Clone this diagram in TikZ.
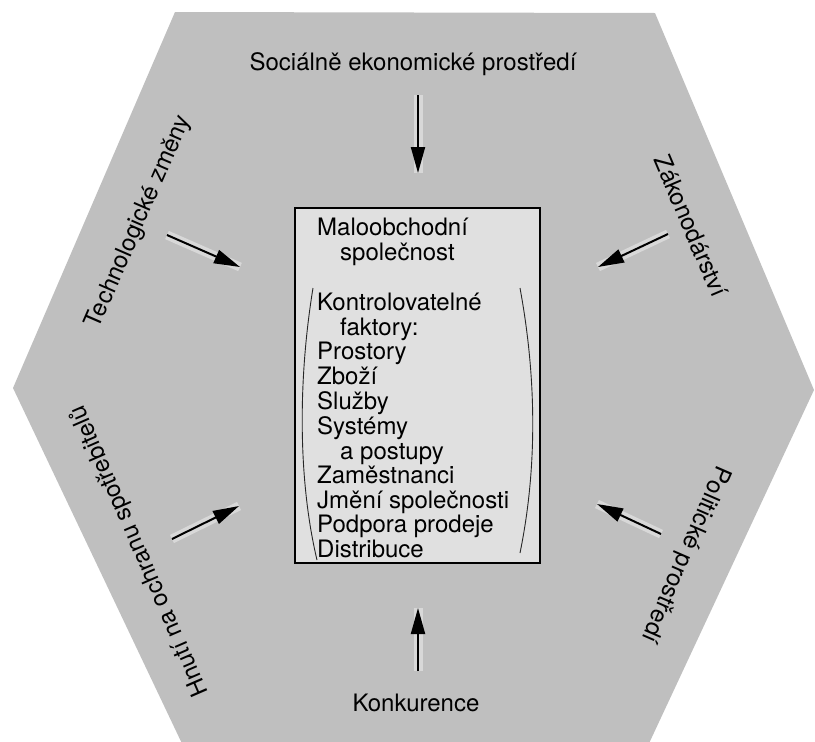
\documentclass[tikz,border=0pt]{standalone}
\usepackage{fontspec}
\setmainfont{TeX Gyre Heros}
\usetikzlibrary{arrows.meta}

\begin{document}
\begin{tikzpicture}[x=1pt,y=-1pt]
\tikzstyle{every node}+=[inner sep=0pt, font=\fontsize{24}{25}\selectfont]
\tikzstyle{force}=[black, line width=2pt, -{Triangle[length=26pt,width=14pt]}, preaction={draw=white, line width=9pt, opacity=0.4, -}]
\useasboundingbox (0,0) rectangle (815,742);
\clip (0,0) rectangle (815,742);
\fill [black!25] (175,12) -- (655,13) -- (814,390) -- (645,752) -- (186,752) -- (13,388) -- cycle;
\node (firma) [draw=black, line width=1.6pt, fill=black!12, minimum width=245pt, minimum height=355pt] at (417.5,385.5) {};
\foreach \dx/\yy/\t [count=\i] in {0/235/Maloobchodní, 23/260/společnost, 0/310/Kontrolovatelné, 23/335/faktory:, 0/359/Prostory, 0/384/Zboží, 0/409/Služby, 0/434/Systémy, 23/459/a postupy, 0/483/Zaměstnanci, 0/508/Jmění společnosti, 0/532/Podpora prodeje, 0/557/Distribuce}
  \node (f\i) [anchor=base west] at (317+\dx,\yy) {\t};
\draw [black!85, line width=0.9pt] (313,288) .. controls (298,380) and (298,480) .. (317,560);
\draw [black!85, line width=0.9pt] (520,288) .. controls (537,380) and (537,470) .. (520,553);
\node (social) at (413,64) {Sociálně ekonomické prostředí};
\node (konk) at (416,703) {Konkurence};
\node (tech) [rotate=66.5] at (139,222) {Technologické změny};
\node (zakon) [rotate=-67] at (691,226) {Zákonodárství};
\node (polit) [rotate=-113.5] at (685,554) {Politické prostředí};
\node (hnuti) [rotate=113.5] at (140,551) {Hnutí na ochranu spotřebitelů};
\coordinate (sN) at (418,95);  \coordinate (eN) at (418,173);
\coordinate (sS) at (418,671); \coordinate (eS) at (418,608);
\coordinate (sNW) at (167,235); \coordinate (eNW) at (240,267);
\coordinate (sNE) at (668,234); \coordinate (eNE) at (598,267);
\coordinate (sSW) at (172,539); \coordinate (eSW) at (239,506);
\coordinate (sSE) at (661,534); \coordinate (eSE) at (597,504);
\draw [force] (sN) -- (eN);
\draw [force] (sS) -- (eS);
\draw [force] (sNW) -- (eNW);
\draw [force] (sNE) -- (eNE);
\draw [force] (sSW) -- (eSW);
\draw [force] (sSE) -- (eSE);
\end{tikzpicture}
\end{document}
